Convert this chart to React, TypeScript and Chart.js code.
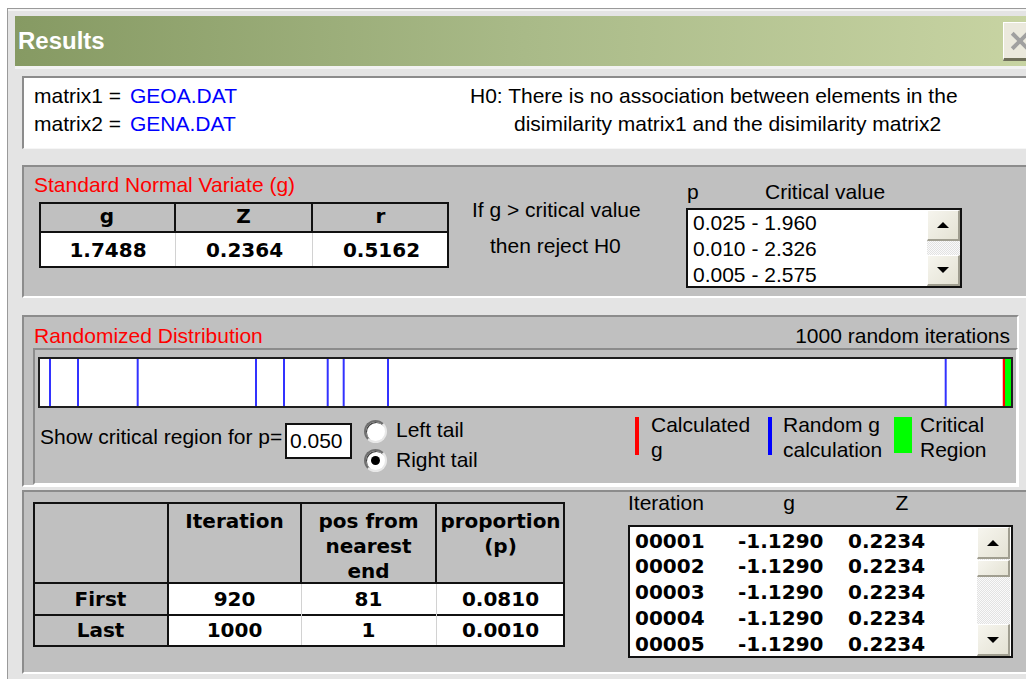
import React, { useEffect, useRef } from "react";
import { Chart, registerables } from "chart.js";

Chart.register(...registerables);

// ---------- data ----------
const MATRIX_LABELS = ["matrix1 =", "matrix2 ="];
const MATRIX_FILES = ["GEOA.DAT", "GENA.DAT"];
const H0_LINES = [
  "H0: There is no association between elements in the",
  "disimilarity matrix1 and the disimilarity matrix2",
];
const SNV_HEADERS = ["g", "Z", "r"];
const SNV_VALUES = ["1.7488", "0.2364", "0.5162"];
const CRITICAL_P = ["0.025", "0.010", "0.005"];
const CRITICAL_VALUES = ["1.960", "2.326", "2.575"];

// randomized distribution strip (g values)
const RANDOM_G = [-1.129, -1.0446, -0.8645, -0.5076, -0.4232, -0.2913, -0.2431, -0.1094, 1.5729];
const CALCULATED_G = 1.7488;
const CRITICAL_REGION = [1.7518, 1.7699];
const AXIS_MIN = -1.1592;
const AXIS_MAX = 1.7699;
const ITERATIONS = 1000;
const P_CRITICAL = "0.050";

const ITER_ROWS = ["First", "Last"];
const ITER_HEADERS = [["Iteration"], ["pos from", "nearest", "end"], ["proportion", "(p)"]];
const ITER_VALUES = [920, 1000];
const POS_FROM_END = [81, 1];
const PROPORTIONS = ["0.0810", "0.0010"];

const LIST_ITER = ["00001", "00002", "00003", "00004", "00005"];
const LIST_G = ["-1.1290", "-1.1290", "-1.1290", "-1.1290", "-1.1290"];
const LIST_Z = ["0.2234", "0.2234", "0.2234", "0.2234", "0.2234"];

// ---------- helpers ----------
const SANS = '"Liberation Sans", Arial, sans-serif';
const BOLD = '"DejaVu Sans", sans-serif';

type TP = {
  x: number;
  y: number;
  size?: number;
  bold?: boolean;
  color?: string;
  family?: string;
  right?: boolean;
  center?: boolean;
  ls?: number;
  children: React.ReactNode;
};

function Txt({ x, y, size = 21, bold = false, color = "#000", family, right, center, ls = 0, children }: TP) {
  const fam = family || SANS;
  const dejavu = fam.startsWith('"DejaVu');
  const asc = dejavu ? 0.928 : 0.905;
  const desc = dejavu ? 0.236 : 0.212;
  const cap = dejavu ? 0.729 : 0.716;
  const L = Math.round(size * 1.25);
  const off = (L - (asc + desc) * size) / 2 + asc * size - (cap * size) / 2;
  const style: React.CSSProperties = {
    position: "absolute",
    top: y - off,
    fontSize: size,
    lineHeight: `${L}px`,
    fontWeight: bold ? "bold" : "normal",
    color,
    fontFamily: fam,
    whiteSpace: "nowrap",
    letterSpacing: ls,
  };
  if (right) {
    style.right = 1026 - x;
  } else if (center) {
    style.left = x - 200;
    style.width = 400;
    style.textAlign = "center";
  } else {
    style.left = x;
  }
  return <div style={style}>{children}</div>;
}

function Box({ x, y, w, h, style, children }: { x: number; y: number; w: number; h: number; style?: React.CSSProperties; children?: React.ReactNode }) {
  return (
    <div style={{ position: "absolute", left: x, top: y, width: w, height: h, boxSizing: "border-box", ...style }}>
      {children}
    </div>
  );
}

const sunken: React.CSSProperties = {
  background: "#c0c0c0",
  borderTop: "2px solid #8c8c8c",
  borderLeft: "2px solid #8c8c8c",
  borderBottom: "2px solid #ffffff",
  borderRight: "2px solid #ffffff",
};

function Arrow({ up }: { up: boolean }) {
  return (
    <div
      style={{
        position: "absolute",
        left: "50%",
        top: "50%",
        transform: "translate(-50%,-50%)",
        width: 0,
        height: 0,
        borderLeft: "6px solid transparent",
        borderRight: "6px solid transparent",
        ...(up ? { borderBottom: "6px solid #000" } : { borderTop: "6px solid #000" }),
      }}
    />
  );
}

const btn: React.CSSProperties = {
  background: "linear-gradient(135deg,#f6f5ee,#e4e2d4)",
  borderTop: "1px solid #ffffff",
  borderLeft: "1px solid #ffffff",
  borderRight: "2px solid #a09e90",
  borderBottom: "2px solid #a09e90",
  position: "absolute",
  boxSizing: "border-box",
};

function ScrollBar({ x, y, w, h, btnH, thumb }: { x: number; y: number; w: number; h: number; btnH: number; thumb?: [number, number] }) {
  return (
    <Box x={x} y={y} w={w} h={h} style={{ background: "repeating-conic-gradient(#e2e2e2 0 25%, #fafafa 0 50%) 0 0/2px 2px" }}>
      <div style={{ ...btn, left: 0, top: 0, width: w, height: btnH }}>
        <Arrow up />
      </div>
      {thumb && <div style={{ ...btn, left: 0, top: thumb[0], width: w, height: thumb[1] }} />}
      <div style={{ ...btn, left: 0, top: h - btnH, width: w, height: btnH }}>
        <Arrow up={false} />
      </div>
    </Box>
  );
}

function Radio({ x, y, checked }: { x: number; y: number; checked: boolean }) {
  return (
    <Box
      x={x}
      y={y}
      w={23}
      h={23}
      style={{
        borderRadius: "50%",
        background: "#fff",
        border: "2px solid",
        borderColor: "#6e6e6e #e8e8e8 #e8e8e8 #6e6e6e",
        boxShadow: "inset 1px 1px 0 #404040",
      }}
    >
      {checked && (
        <div style={{ position: "absolute", left: 5, top: 5, width: 9, height: 9, borderRadius: "50%", background: "#000" }} />
      )}
    </Box>
  );
}

// ---------- strip chart ----------
function Strip() {
  const ref = useRef<HTMLCanvasElement | null>(null);
  useEffect(() => {
    if (!ref.current) return;
    const datasets: any[] = [
      {
        label: "Critical Region",
        data: CRITICAL_REGION.map((x) => ({ x, y: 1 })),
        fill: "origin",
        backgroundColor: "#00ff00",
        borderWidth: 0,
        pointRadius: 0,
      },
      ...RANDOM_G.map((g) => ({
        label: "Random g calculation",
        data: [
          { x: g, y: 0 },
          { x: g, y: 1 },
        ],
        borderColor: "#3333ff",
        borderWidth: 2,
        pointRadius: 0,
        fill: false,
      })),
      {
        label: "Calculated g",
        data: [
          { x: CALCULATED_G, y: 0 },
          { x: CALCULATED_G, y: 1 },
        ],
        borderColor: "#ff0000",
        borderWidth: 2.5,
        pointRadius: 0,
        fill: false,
      },
    ];
    const chart = new Chart(ref.current, {
      type: "line",
      data: { datasets },
      options: {
        animation: false,
        responsive: false,
        devicePixelRatio: 1,
        layout: { padding: 0 },
        scales: {
          x: { type: "linear", min: AXIS_MIN, max: AXIS_MAX, display: false },
          y: { type: "linear", min: 0, max: 1, display: false },
        },
        plugins: { legend: { display: false }, tooltip: { enabled: false } },
      },
    });
    return () => chart.destroy();
  }, []);
  return <canvas ref={ref} width={971} height={47} style={{ position: "absolute", left: 40, top: 359, width: 971, height: 47, background: "#fff" }} />;
}

// ---------- app ----------
export default function App() {
  const snvCols = [39, 175, 312, 449];
  const itCols = [33, 168, 301, 436, 565];
  const itRowY = [502, 583, 615, 646];
  const listY = [541, 566.5, 592, 618, 644];
  const critY = [223, 249, 275];

  return (
    <div style={{ position: "fixed", left: 0, top: 0, width: 1026, height: 679, background: "#fff", overflow: "hidden", fontFamily: SANS }}>
      {/* window frame */}
      <Box x={7} y={8} w={1030} h={680} style={{ background: "#e4e4e4", borderTop: "1px solid #9a9a9a", borderLeft: "1px solid #9a9a9a" }} />
      <Box x={8} y={9} w={1030} h={2} style={{ background: "#f4f4f4" }} />
      {/* title bar */}
      <Box x={15} y={16} w={1020} h={50} style={{ background: "linear-gradient(to right,#869a63,#a9ba88 50%,#c8d4a3)" }} />
      <Txt x={18} y={41} size={24} bold color="#ffffff">Results</Txt>
      <Box x={1003} y={22} w={32} h={39} style={{ background: "#ebe9dd", borderTop: "1px solid #fff", borderLeft: "1px solid #fff", borderBottom: "3px solid #6f6f5a" }}>
        <div style={{ position: "absolute", left: 5, top: 16, width: 22, height: 4, background: "#a0a0a0", transform: "rotate(45deg)" }} />
        <div style={{ position: "absolute", left: 5, top: 16, width: 22, height: 4, background: "#a0a0a0", transform: "rotate(-45deg)" }} />
      </Box>
      <Box x={15} y={66} w={1020} h={3} style={{ background: "#f2f2f2" }} />

      {/* info panel */}
      <Box x={22} y={76} w={1010} h={73} style={{ background: "#fff", borderTop: "2px solid #8c8c8c", borderLeft: "2px solid #8c8c8c", borderBottom: "1px solid #f6f6f6" }} />
      {MATRIX_LABELS.map((l, i) => (
        <React.Fragment key={l}>
          <Txt x={34} y={96 + i * 27.5}>{l}</Txt>
          <Txt x={130} y={96 + i * 27.5} color="#0000ff">{MATRIX_FILES[i]}</Txt>
        </React.Fragment>
      ))}
      <Txt x={470} y={96}>{H0_LINES[0]}</Txt>
      <Txt x={514} y={123.5}>{H0_LINES[1]}</Txt>

      {/* standard normal variate group */}
      <Box x={22} y={165} w={1010} h={133} style={{ ...sunken, borderRight: "none" }} />
      <Txt x={34} y={185} color="#ff0000">Standard Normal Variate (g)</Txt>
      <Box x={39} y={202} w={410} h={66} style={{ background: "#fff", border: "2px solid #111" }} />
      <Box x={41} y={204} w={406} h={29} style={{ background: "#c0c0c0", borderBottom: "2px solid #111" }} />
      {[1, 2].map((i) => (
        <React.Fragment key={i}>
          <Box x={snvCols[i] - 1} y={204} w={2} h={29} style={{ background: "#111" }} />
          <Box x={snvCols[i]} y={233} w={1} h={33} style={{ background: "#d2d2d2" }} />
        </React.Fragment>
      ))}
      {SNV_HEADERS.map((h, i) => (
        <Txt key={h} x={(snvCols[i] + snvCols[i + 1]) / 2} y={216} center bold family={BOLD} size={20}>{h}</Txt>
      ))}
      {SNV_VALUES.map((v, i) => (
        <Txt key={v} x={(snvCols[i] + snvCols[i + 1]) / 2 + 1} y={250.5} center bold family={BOLD} size={20}>{v}</Txt>
      ))}
      <Txt x={472} y={210}>If g &gt; critical value</Txt>
      <Txt x={490} y={245.5}>then reject H0</Txt>
      <Txt x={687} y={192}>p</Txt>
      <Txt x={765} y={192}>Critical value</Txt>
      <Box x={686} y={208} w={276} h={80} style={{ background: "#fff", border: "2px solid #111" }} />
      {CRITICAL_P.map((p, i) => (
        <Txt key={p} x={693} y={critY[i]}>{`${p} - ${CRITICAL_VALUES[i]}`}</Txt>
      ))}
      <ScrollBar x={927} y={210} w={33} h={76} btnH={31} />

      {/* randomized distribution group */}
      <Box x={22} y={315} w={997} h={172} style={{ ...sunken }} />
      <Box x={33} y={348} w={985} h={137} style={{ ...sunken }} />
      <Txt x={34} y={336} color="#ff0000">Randomized Distribution</Txt>
      <Txt x={1010} y={336} right>{`${ITERATIONS} random iterations`}</Txt>
      <Box x={38} y={357} w={975} h={51} style={{ border: "2px solid #1e1e1e", background: "#fff" }} />
      <Strip />
      <Txt x={40} y={437}>Show critical region for p=</Txt>
      <Box x={285} y={423} w={67} h={36} style={{ background: "#fff", border: "2px solid #111" }} />
      <Txt x={290} y={441}>{P_CRITICAL}</Txt>
      <Radio x={364} y={420} checked={false} />
      <Radio x={364} y={449} checked />
      <Txt x={396} y={430}>Left tail</Txt>
      <Txt x={396} y={460}>Right tail</Txt>
      <Box x={635} y={417} w={4} h={38} style={{ background: "#ff0000" }} />
      <Txt x={651} y={425}>Calculated</Txt>
      <Txt x={651} y={450}>g</Txt>
      <Box x={768} y={417} w={4} h={38} style={{ background: "#0000ff" }} />
      <Txt x={783} y={425}>Random g</Txt>
      <Txt x={783} y={450}>calculation</Txt>
      <Box x={894} y={417} w={18} h={36} style={{ background: "#00ff00" }} />
      <Txt x={920} y={425}>Critical</Txt>
      <Txt x={920} y={450}>Region</Txt>

      {/* bottom panel */}
      <Box x={22} y={490} w={1010} h={184} style={{ ...sunken, borderRight: "none" }} />
      {/* iteration table */}
      <Box x={33} y={502} w={532} h={145} style={{ background: "#fff", border: "2px solid #111" }} />
      <Box x={35} y={504} w={528} h={79} style={{ background: "#c0c0c0" }} />
      <Box x={35} y={583} w={133} h={62} style={{ background: "#c0c0c0" }} />
      <Box x={35} y={582} w={528} h={2} style={{ background: "#111" }} />
      <Box x={35} y={614} w={528} h={2} style={{ background: "#111" }} />
      <Box x={167} y={504} w={2} h={141} style={{ background: "#111" }} />
      {[2, 3].map((i) => (
        <React.Fragment key={i}>
          <Box x={itCols[i] - 1} y={504} w={2} h={78} style={{ background: "#111" }} />
          <Box x={itCols[i]} y={584} w={1} h={61} style={{ background: "#d2d2d2" }} />
        </React.Fragment>
      ))}
      {ITER_HEADERS.map((lines, i) =>
        lines.map((l, j) => (
          <Txt key={l} x={(itCols[i + 1] + itCols[i + 2]) / 2} y={521 + j * 25} center bold family={BOLD} size={20}>{l}</Txt>
        ))
      )}
      {ITER_ROWS.map((r, i) => (
        <React.Fragment key={r}>
          <Txt x={(itCols[0] + itCols[1]) / 2} y={(itRowY[i + 1] + itRowY[i + 2]) / 2} center bold family={BOLD} size={20}>{r}</Txt>
          <Txt x={(itCols[1] + itCols[2]) / 2} y={(itRowY[i + 1] + itRowY[i + 2]) / 2} center bold family={BOLD} size={20}>{String(ITER_VALUES[i])}</Txt>
          <Txt x={(itCols[2] + itCols[3]) / 2} y={(itRowY[i + 1] + itRowY[i + 2]) / 2} center bold family={BOLD} size={20}>{String(POS_FROM_END[i])}</Txt>
          <Txt x={(itCols[3] + itCols[4]) / 2} y={(itRowY[i + 1] + itRowY[i + 2]) / 2} center bold family={BOLD} size={20}>{PROPORTIONS[i]}</Txt>
        </React.Fragment>
      ))}

      {/* iteration list */}
      <Txt x={628} y={503}>Iteration</Txt>
      <Txt x={789} y={503} center>g</Txt>
      <Txt x={902} y={503} center>Z</Txt>
      <Box x={628} y={525} w={385} h={133} style={{ background: "#fff", border: "2px solid #111" }} />
      {LIST_ITER.map((it, i) => (
        <React.Fragment key={it}>
          <Txt x={635} y={listY[i]} bold family={BOLD} size={20}>{it}</Txt>
          <Txt x={738} y={listY[i]} bold family={BOLD} size={20}>{LIST_G[i]}</Txt>
          <Txt x={848} y={listY[i]} bold family={BOLD} size={20}>{LIST_Z[i]}</Txt>
        </React.Fragment>
      ))}
      <ScrollBar x={977} y={527} w={33} h={129} btnH={32} thumb={[33, 17]} />
    </div>
  );
}
